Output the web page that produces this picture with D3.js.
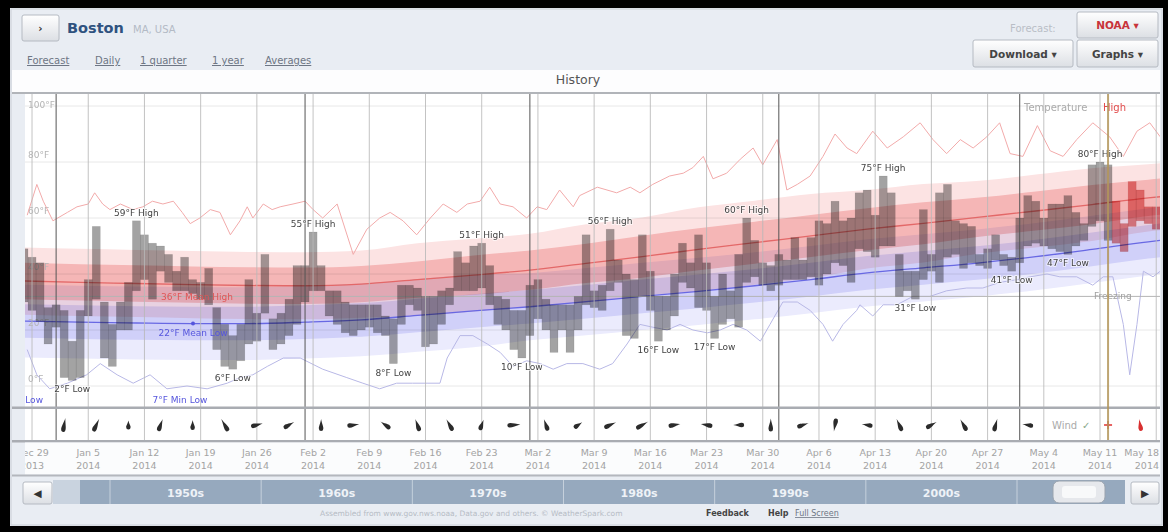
<!DOCTYPE html>
<html><head><meta charset="utf-8">
<script src="https://cdn.jsdelivr.net/npm/d3@7"></script>
<style>
html,body{margin:0;padding:0;background:#000;}
svg{display:block;}
text{font-family:"DejaVu Sans",Verdana,sans-serif;}
</style></head><body>
<svg id="c" width="1168" height="532"></svg>
<script>
// ---------------- DATA ----------------
const startDate = Date.UTC(2013, 11, 28);          // first day in the arrays (Dec 28, 2013)
const todayOffset = 135;                           // May 12, 2014
const forecastFrom = 136;                          // first forecast index
const dailyHigh = [49,
 46,44,28,29,27,16,27,38,57,30, 22,30,37,59,54,51,50,47,41,46,
 38,37,42,28,22,18,22,38,26,47, 24,26,31,43,43,55,43,34,34,30,
 29,29,29,29,25,24,36,36,35,32, 32,34,35,48,44,50,51,43,32,31,
 27,27,36,38,31,29,29,29,32,54, 34,36,56,45,40,38,54,41,32,32,
 40,51,44,54,44,32,40,34,47,60, 52,44,43,47,45,53,45,53,59,58,
 66,59,60,69,70,61,75,69,47,41, 41,63,47,69,72,59,58,57,47,49,
 54,47,46,60,68,66,60,65,65,68, 62,58,79,80,79,66,58,73,70,64,
 64,68];
const dailyLow = [30,
 27,23,15,21,3,2,3,25,31,10, 7,20,20,34,38,31,41,37,34,34,
 33,31,29,13,7,6,9,15,16,26, 13,15,18,22,30,34,34,25,22,19,
 18,20,21,19,18,8,22,29,27,14, 15,22,29,34,34,34,35,29,22,20,
 13,10,18,24,20,12,20,12,20,29, 28,27,34,37,18,17,32,27,16,20,
 25,37,35,28,27,17,22,24,21,37, 39,36,34,36,38,38,38,39,36,40,
 44,43,37,49,48,46,50,50,32,34, 31,38,41,37,46,47,42,44,43,42,
 45,43,41,44,50,51,50,49,48,47, 50,52,57,59,52,51,48,57,59,58,
 56,58];
const highLabelIdx = [14, 36, 57, 73, 90, 107, 134];
const lowLabelIdx  = [6, 26, 46, 62, 79, 86, 111, 123, 130];

const normalDays = [0,7,14,21,28,35,42,49,56,63,70,77,84,91,98,105,112,119,126,133,140,143];
const meanHigh  = [37.5,37,36.6,36.2,35.9,35.8,36.4,38,39.6,41.4,43.8,46.2,48.8,51.2,53.6,56,58.1,60.3,62.5,64.8,67.2,68];
const highInner = [6.5,6.5,6.5,6.5,6.5,6.5,6.5,6.5,7,7,7,7.5,7.5,7.5,7.5,7.5,7.5,7,7,7,6.5,6.5];
const highOuter = [12,12,12,12,12,12,12,13,13,13,14,14,15,15,15,14,14,13,13,13,12,12];
const meanLow   = [23.2,22.8,22.5,22.3,22.3,22.8,23.6,25.2,26.8,28.3,30.1,32,33.8,35.8,38,40.4,42.2,44,46.2,48.8,51.5,52.5];
const lowInner  = [6,6,6,6,6,6,6,6,6,6,6,6,6,6,6,6,6,6,6,6,6,6];
const lowOuter  = [13,13,13,13,13,13,13,13,13,12,12,12,12,12,12,12,12,12,12,12,12,12];

const recordHigh = [[0.4,61],[1.6,72],[2.4,66],[3.6,59],[5.4,62],[6.6,64],[8,65],[8.8,69],[9.8,65],[10.7,63],[12,65],[13.6,63],[14.8,64],[16,66],[17.3,65],[18.6,66],[19.7,62],[20.7,58],[21.9,60],[23.2,63],[24.4,62],[25.7,54],[26.9,59],[27.8,64],[28.5,60],[29.8,65],[30.9,63],[31.9,64],[33.5,65],[35,66],[36,63],[37.2,60],[39,65],[41,47],[42.7,56],[44.3,60],[45.6,62],[47.2,59],[48.9,54],[50.6,60],[52.2,65],[53.9,62],[55.2,65],[56.8,66],[58,71],[59.3,65],[60.9,64],[62.6,60],[63.9,64],[65.1,63],[66.7,70],[68.4,64],[69.2,68],[71.4,71],[73.8,69],[75.5,71],[76.7,69],[78.3,72],[80.4,75],[82.1,76],[83.3,78],[84.6,82],[85.8,74],[87.5,76],[89.2,81],[90.8,85],[92,79],[93.8,88],[95,70],[96.3,72],[97.9,75],[99.5,82],[101,90],[102.5,85],[103.7,83],[105.7,91],[107.5,85],[109.5,89],[111.6,94],[113.2,88],[114.9,83],[116.6,88],[118.2,85],[119.9,89],[121.5,94],[122.8,83],[124.4,82],[126.2,93],[127.8,84],[129.4,82],[131.1,88],[133.1,94],[135.2,89],[136.9,82],[138.6,91],[140.2,94],[141.5,89]];
const recordLow = [[0.4,13],[1.6,4],[3.2,-1],[5.4,1],[7.8,4],[9.5,8],[11.6,4],[13.6,1],[15.7,4],[17.8,-1],[20.3,0],[22.8,-1],[25.3,1],[26.9,3],[28.5,4],[30.3,7],[32.3,10],[34.4,10],[37.2,6],[40.2,3],[42.2,1],[44.3,-1],[46.4,1],[48.4,1],[50.2,1],[51.8,1],[52.7,10],[54.3,18],[55.9,18],[57.7,15],[59.3,12],[60.9,7],[62.6,9],[64.3,8],[65.9,6],[67.6,8],[69.6,8],[71.7,6],[73.3,8],[75.1,15],[76.7,22],[78.3,21],[80.1,20],[81.7,22],[83.3,20],[85.1,19],[86.7,20],[88.3,22],[90,20],[91.7,16],[92.9,22],[94.5,30],[96.3,30],[97.9,27],[99.5,22],[100.7,16],[102,22],[103.7,27],[104.1,29],[105.7,25],[107,29],[108.7,29],[110.7,32],[112.8,32],[114.9,34],[117.4,35],[119.4,35],[121.5,37],[123.7,38],[125.3,39],[127.4,40],[129,39],[131.1,39],[133.1,36],[134.4,39],[135.6,39],[136.9,22],[137.7,4],[138.6,22],[139.4,41],[140.6,39],[141.5,41]];

const windDays  = [5,9,13,17,21,25,29,33,37,41,45,49,53,57,61,65,69,73,77,81,85,89,93,97,101,105,109,113,117,121,125];
const windDir   = [190,205,180,200,180,150,255,240,180,262,125,160,150,200,265,160,235,245,240,260,100,90,180,250,10,100,155,240,150,195,100];
const windLen   = [14,14,9,13,10,14,12,12,12,12,12,13,13,11,13,12,10,13,14,12,12,11,13,12,13,11,13,12,13,13,11];
const forecastWindDay = 139, forecastWindDir = 170, forecastWindLen = 12;

const yTicks = [0,20,40,60,80,100];
const freezing = 32;
const decades = ["1950s","1960s","1970s","1980s","1990s","2000s"];
const decadeStarts = [1950,1960,1970,1980,1990,2000];
const navLinks = ["Forecast","Daily","1 quarter","1 year","Averages"];

// ---------------- SETUP ----------------
const W = 1168, H = 532;
const PX = 25, PR = 1160, PT = 94, PB = 407;
const dayPx = 8.03;
const svg = d3.select("#c");
const defs = svg.append("defs");
const lg = defs.append("linearGradient").attr("id","btn").attr("x1",0).attr("y1",0).attr("x2",0).attr("y2",1);
lg.append("stop").attr("offset","0%").attr("stop-color","#ffffff");
lg.append("stop").attr("offset","100%").attr("stop-color","#dcdfe4");
defs.append("clipPath").attr("id","plotClip").append("rect").attr("x",PX).attr("y",PT).attr("width",PR-PX).attr("height",PB-PT);
defs.append("clipPath").attr("id","rowClip").append("rect").attr("x",PX).attr("y",PB).attr("width",PR-PX).attr("height",70);

const day0 = new Date(startDate);
const dOff = n => new Date(startDate + n*86400000);
const x = d3.scaleUtc().domain([day0, dOff(143)]).range([24, 24 + 143*dayPx]);
const y = d3.scaleLinear().domain([0,100]).range([386,106]);

// background
svg.append("rect").attr("width",W).attr("height",H).attr("fill","#000");
svg.append("rect").attr("x",10).attr("y",8).attr("width",1153).attr("height",518).attr("fill","#e9edf3");
svg.append("rect").attr("x",11).attr("y",9).attr("width",1151).attr("height",516).attr("fill","none").attr("stroke","#c9ced6");

// ---------------- HEADER ----------------
function button(x0,y0,w,h,label,color){
  svg.append("rect").attr("x",x0).attr("y",y0).attr("width",w).attr("height",h).attr("rx",2)
    .attr("fill","url(#btn)").attr("stroke","#b5bac2");
  svg.append("text").attr("x",x0+w/2).attr("y",y0+h/2+4).attr("text-anchor","middle")
    .attr("font-size",10.5).attr("font-weight","bold").attr("fill",color).text(label);
}
button(22,15,37,26,"›","#333");
svg.append("text").attr("x",67).attr("y",33).attr("font-size",14.5).attr("font-weight","bold").attr("fill","#2f527f").text("Boston");
svg.append("text").attr("x",133).attr("y",33).attr("font-size",10).attr("fill","#b3bac5").text("MA, USA");
const linkX = [27,95,140,212,265];
navLinks.forEach((t,i)=>svg.append("text").attr("x",linkX[i]).attr("y",64).attr("font-size",10)
  .attr("fill","#6e7684").attr("text-decoration","underline").text(t));
svg.append("text").attr("x",1010).attr("y",32).attr("font-size",10).attr("fill","#b9bec6").text("Forecast:");
button(1077,12,81,26,"NOAA ▾","#c8333a");
button(973,40,100,27,"Download ▾","#444");
button(1077,40,81,27,"Graphs ▾","#444");

// title band
svg.append("rect").attr("x",12).attr("y",70).attr("width",1148).attr("height",23).attr("fill","#fdfdfe");
svg.append("text").attr("x",578).attr("y",84).attr("text-anchor","middle").attr("font-size",12.5).attr("fill","#555").text("History");

// ---------------- PLOT ----------------
svg.append("rect").attr("x",PX).attr("y",PT).attr("width",PR-PX).attr("height",PB-PT).attr("fill","#fff");
const plot = svg.append("g").attr("clip-path","url(#plotClip)");

// horizontal grid
plot.selectAll(".hg").data(yTicks).join("line").attr("x1",PX).attr("x2",PR)
  .attr("y1",d=>y(d)).attr("y2",d=>y(d)).attr("stroke","#e8e8e8");

// bands
const nd = normalDays.map((d,i)=>({d:dOff(d), mh:meanHigh[i], hi:highInner[i], ho:highOuter[i], ml:meanLow[i], li:lowInner[i], lo:lowOuter[i]}));
const area = (lo,hi)=>d3.area().x(d=>x(d.d)).y0(d=>y(lo(d))).y1(d=>y(hi(d))).curve(d3.curveMonotoneX);
const bandG = plot.append("g");
function band(path, fill){ bandG.append("path").datum(nd).attr("d",path).attr("fill",fill).style("mix-blend-mode","multiply"); }
band(area(d=>d.mh-d.ho, d=>d.mh+d.ho), "#fce3e3");
band(area(d=>d.mh-d.hi, d=>d.mh+d.hi), "#f8cdcd");
band(area(d=>d.ml-d.lo, d=>d.ml+d.lo), "#ebebfd");
band(area(d=>d.ml-d.li, d=>d.ml+d.li), "#e2e2fb");

// y labels
plot.selectAll(".yl").data(yTicks).join("text").attr("x",28)
  .attr("y",d=>Math.max(y(d)-4, PT+14)).attr("font-size",9).attr("fill","#b4b4b4").text(d=>d+"°F");

// mean lines
const mline = f=>d3.line().x(d=>x(d.d)).y(d=>y(f(d))).curve(d3.curveMonotoneX);
plot.append("path").datum(nd).attr("d",mline(d=>d.mh)).attr("fill","none").attr("stroke","#e36868").attr("stroke-width",1.3);
plot.append("path").datum(nd).attr("d",mline(d=>d.ml)).attr("fill","none").attr("stroke","#6868e3").attr("stroke-width",1.3);

// record lines
const rline = d3.line().x(d=>x(dOff(d[0]))).y(d=>y(d[1]));
plot.append("path").datum(recordHigh).attr("d",rline).attr("fill","none").attr("stroke","#f2aaaa").attr("stroke-width",1);
plot.append("path").datum(recordLow).attr("d",rline).attr("fill","none").attr("stroke","#b8b8e6").attr("stroke-width",1);

// freezing line
plot.append("line").attr("x1",PX).attr("x2",PR).attr("y1",y(freezing)).attr("y2",y(freezing)).attr("stroke","#b4b4b4");

// bars
const bars = dailyHigh.map((h,i)=>({i, d:dOff(i), h, l:dailyLow[i]}));
plot.selectAll(".bar").data(bars).join("rect")
  .attr("x",d=>x(d.d)-dayPx/2).attr("width",dayPx)
  .attr("y",d=>y(d.h)).attr("height",d=>y(d.l)-y(d.h))
  .attr("fill",d=>d.i>=forecastFrom?"#e58a8a":"#a3a3a3")
  .attr("stroke",d=>d.i>=forecastFrom?"rgba(160,40,40,0.2)":"rgba(0,0,0,0.12)").attr("stroke-width",0.6)
  .style("mix-blend-mode","multiply");

// vertical grid (weeks, months)
const weeks = d3.utcSunday.range(dOff(0), dOff(143));
const months = d3.utcMonth.range(dOff(0), dOff(143));
plot.selectAll(".wk").data(weeks).join("line").attr("x1",d=>x(d)).attr("x2",d=>x(d))
  .attr("y1",PT).attr("y2",PB).attr("stroke","#b8b8b8").attr("stroke-opacity",0.85);
plot.selectAll(".mo").data(months).join("line").attr("x1",d=>x(d)).attr("x2",d=>x(d))
  .attr("y1",PT).attr("y2",PB).attr("stroke","#555").attr("stroke-width",1);

// labels
const halo = s=>s.attr("paint-order","stroke").attr("stroke","rgba(255,255,255,0.6)").attr("stroke-width",2);
plot.selectAll(".hl").data(highLabelIdx).join("text").attr("x",i=>x(dOff(i))).attr("y",i=>y(dailyHigh[i])-5)
  .attr("text-anchor","middle").attr("font-size",9).attr("fill","#444").text(i=>dailyHigh[i]+"°F High").call(halo);
plot.selectAll(".ll").data(lowLabelIdx).join("text").attr("x",i=>x(dOff(i))).attr("y",i=>y(dailyLow[i])+12)
  .attr("text-anchor","middle").attr("font-size",9).attr("fill","#444").text(i=>dailyLow[i]+"°F Low").call(halo);
plot.append("text").attr("x",233).attr("y",y(meanHigh[3])+15).attr("text-anchor","end").attr("font-size",9)
  .attr("fill","#e05555").text(Math.round(meanHigh[3])+"°F Mean High");
plot.append("text").attr("x",193).attr("y",y(meanLow[3])+12).attr("text-anchor","middle").attr("font-size",9)
  .attr("fill","#5555dd").text(Math.round(meanLow[3])+"°F Mean Low");
plot.append("circle").attr("cx",193).attr("cy",y(meanLow[3])).attr("r",2).attr("fill","#5555dd");
plot.append("text").attr("x",180).attr("y",403).attr("text-anchor","middle").attr("font-size",9)
  .attr("fill","#5555dd").text("7°F Min Low");
plot.append("text").attr("x",43).attr("y",403).attr("text-anchor","end").attr("font-size",9)
  .attr("fill","#5555dd").text("Low");
plot.append("text").attr("x",1094).attr("y",y(freezing)+3).attr("font-size",9).attr("fill","#a0a0a0").text("Freezing");
plot.append("text").attr("x",1024).attr("y",111).attr("font-size",10).attr("fill","#aaa").text("Temperature");
plot.append("text").attr("x",1103).attr("y",111).attr("font-size",10).attr("fill","#e24b4b").text("High");

// frame lines
svg.append("rect").attr("x",12).attr("y",92).attr("width",1148).attr("height",2).attr("fill","#b1b4b9");
svg.append("rect").attr("x",12).attr("y",406.5).attr("width",1148).attr("height",2.5).attr("fill","#a9acb2");

// ---------------- WIND ROW ----------------
svg.append("rect").attr("x",PX).attr("y",409).attr("width",PR-PX).attr("height",31).attr("fill","#fff");
const windG = svg.append("g").attr("clip-path","url(#rowClip)");
windG.selectAll(".wk").data(weeks).join("line").attr("x1",d=>x(d)).attr("x2",d=>x(d))
  .attr("y1",409).attr("y2",440).attr("stroke","#c4c4c4");
windG.selectAll(".mo").data(months).join("line").attr("x1",d=>x(d)).attr("x2",d=>x(d))
  .attr("y1",409).attr("y2",440).attr("stroke","#555");
const glyph = L=>`M0,${L/2} C-0.6,${L/6} -2.6,${-L/6} -2.2,${-L/2+2.2} A2.2,2.2 0 0 1 2.2,${-L/2+2.2} C2.6,${-L/6} 0.6,${L/6} 0,${L/2}Z`;
windG.selectAll(".wind").data(windDays).join("path")
  .attr("d",(d,i)=>glyph(windLen[i]))
  .attr("transform",(d,i)=>`translate(${x(dOff(d))},425) rotate(${windDir[i]})`)
  .attr("fill","#2b2b2b");
windG.append("path").attr("d",glyph(forecastWindLen))
  .attr("transform",`translate(${x(dOff(forecastWindDay))},425) rotate(${forecastWindDir})`).attr("fill","#d83030");
windG.append("text").attr("x",1052).attr("y",429).attr("font-size",10).attr("fill","#aaa").text("Wind");
windG.append("text").attr("x",1082).attr("y",429).attr("font-size",10).attr("fill","#8aa88a").text("✓");
windG.append("path").attr("d","M-4,0H4M0,-4V4").attr("transform",`translate(${x(dOff(todayOffset))},425)`)
  .attr("stroke","#e03030").attr("stroke-width",1.5);

// today line
svg.append("line").attr("x1",x(dOff(todayOffset))).attr("x2",x(dOff(todayOffset)))
  .attr("y1",PT).attr("y2",440).attr("stroke","#b3955a").attr("stroke-width",2).attr("stroke-opacity",0.85);

// ---------------- DATE ROW ----------------
svg.append("rect").attr("x",12).attr("y",440).attr("width",1148).attr("height",2.5).attr("fill","#a9acb2");
svg.append("rect").attr("x",PX).attr("y",442.5).attr("width",PR-PX).attr("height",32).attr("fill","#fbfcfd");
svg.append("rect").attr("x",12).attr("y",474.5).attr("width",1148).attr("height",2).attr("fill","#b4b7bd");
const dateG = svg.append("g").attr("clip-path","url(#rowClip)");
const fmtMD = d3.utcFormat("%b %-d"), fmtY = d3.utcFormat("%Y");
const lastWeek = weeks[weeks.length-1];
const dateX = d => d === lastWeek ? PR - 1 : x(d);
const dateAnchor = d => d === lastWeek ? "end" : "middle";
dateG.selectAll(".dl1").data(weeks).join("text").attr("x",dateX).attr("y",456).attr("text-anchor",dateAnchor)
  .attr("font-size",9.5).attr("fill","#a3a3a3").text(fmtMD);
dateG.selectAll(".dl2").data(weeks).join("text").attr("x",dateX).attr("y",469).attr("text-anchor",dateAnchor)
  .attr("font-size",9.5).attr("fill","#a3a3a3").text(fmtY);

// ---------------- TIMELINE ----------------
const tl = d3.scaleLinear().domain([1950,2010]).range([110,1017]);
button(23,482,29,22,"◀","#333");
button(1131,482,28,22,"▶","#333");
svg.append("rect").attr("x",53).attr("y",480).attr("width",27).attr("height",24).attr("fill","#c9d3df");
svg.append("rect").attr("x",80).attr("y",480).attr("width",1045).attr("height",24).attr("fill","#96a9be");
svg.selectAll(".dsep").data(decadeStarts.concat([2010])).join("line").attr("x1",d=>tl(d)).attr("x2",d=>tl(d))
  .attr("y1",480).attr("y2",504).attr("stroke","#c5d0dc").attr("stroke-width",1);
svg.selectAll(".dec").data(decades).join("text").attr("x",(d,i)=>tl(decadeStarts[i]+5)).attr("y",497)
  .attr("text-anchor","middle").attr("font-size",11).attr("font-weight","bold").attr("fill","#eef2f7").text(d=>d);
svg.append("rect").attr("x",1053).attr("y",481).attr("width",52).attr("height",22).attr("rx",6)
  .attr("fill","#e6e8ec").attr("stroke","#9aa3ae");
svg.append("rect").attr("x",1062).attr("y",486).attr("width",34).attr("height",12).attr("rx",3).attr("fill","#f8f9fa");

// ---------------- FOOTER ----------------
svg.append("text").attr("x",320).attr("y",516).attr("font-size",7.5).attr("fill","#b6bcc5")
  .text("Assembled from www.gov.nws.noaa, Data.gov and others.  © WeatherSpark.com");
svg.append("text").attr("x",706).attr("y",516).attr("font-size",8).attr("font-weight","bold").attr("fill","#444").text("Feedback");
svg.append("text").attr("x",768).attr("y",516).attr("font-size",8).attr("font-weight","bold").attr("fill","#444").text("Help");
svg.append("text").attr("x",795).attr("y",516).attr("font-size",8).attr("fill","#6e7684").attr("text-decoration","underline").text("Full Screen");
</script>
</body></html>
